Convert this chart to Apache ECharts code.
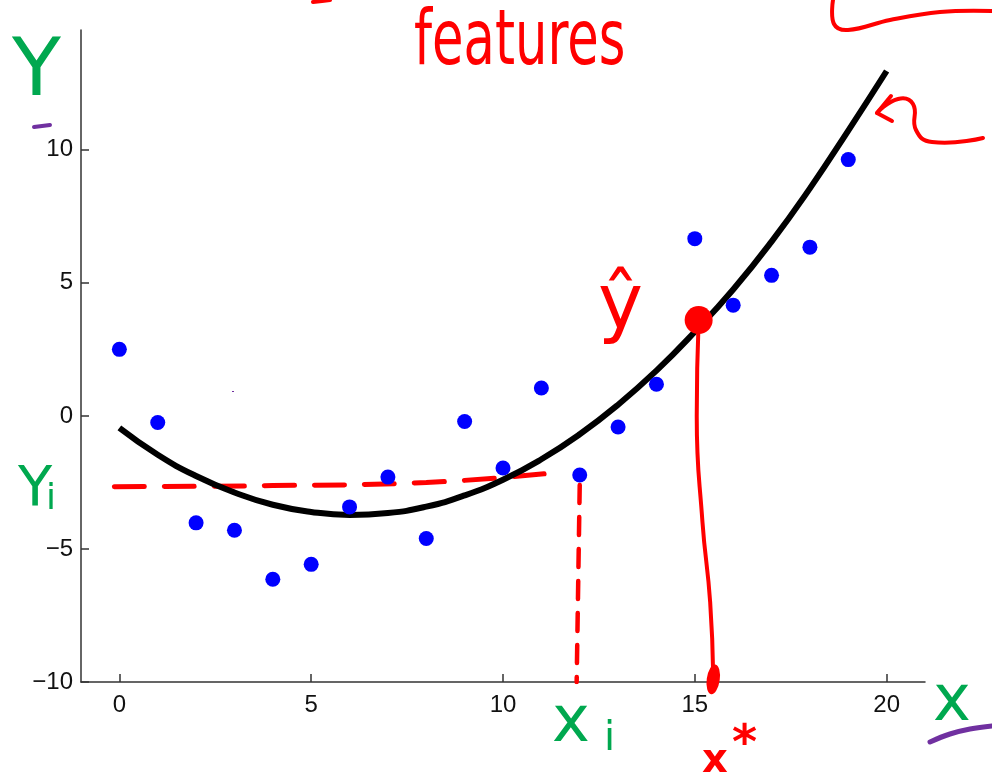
<!DOCTYPE html>
<html>
<head>
<meta charset="utf-8">
<style>
  html, body { margin: 0; padding: 0; background: #ffffff; }
  #chart { width: 992px; height: 773px; }
</style>
<script src="https://cdn.jsdelivr.net/npm/echarts@6/dist/echarts.min.js"></script>
</head>
<body>
<div id="chart"></div>
<script>
// Observed training points (x_i, y_i)
const xObs = [0, 1, 2, 3, 4, 5, 6, 7, 8, 9, 10, 11, 12, 13, 14, 15, 16, 17, 18, 19];
const yObs = [2.50, -0.25, -4.02, -4.30, -6.14, -5.58, -3.42, -2.30, -4.61, -0.21,
              -1.96, 1.05, -2.22, -0.42, 1.19, 6.66, 4.16, 5.28, 6.34, 9.63];

// Fitted quadratic regression curve, sampled at integer x
const xFit = [0, 1, 2, 3, 4, 5, 6, 7, 8, 9, 10, 11, 12, 13, 14, 15, 16, 17, 18, 19, 20];
const yFit = [-0.45, -1.46, -2.26, -2.88, -3.34, -3.61, -3.72, -3.65, -3.41, -2.99,
              -2.40, -1.63, -0.69, 0.42, 1.70, 3.16, 4.75, 6.55, 8.55, 10.72, 12.96];

// Axis tick values
const xTicks = [0, 5, 10, 15, 20];
const yTicks = [-10, -5, 0, 5, 10];

// Pen annotations tied to data space
const yiGuideX = [-0.13, 4, 8, 11.4];        // dashed level of y_i
const yiGuideY = [-2.66, -2.62, -2.50, -2.13];
const xiGuideX = [12.0, 11.92];              // dashed drop to x_i
const xiGuideY = [-2.6, -10];
const predX = [15.1, 15.05, 15.2, 15.4, 15.48];  // prediction pointer down to x*
const predY = [3.6, 0, -4, -7, -9.8];
const predPoint = [15.1, 3.6];
const xStarMark = [15.48, -9.9];

const RED = '#ff0000';
const GREEN = '#00a84f';
const PURPLE = '#7030a0';
const PEN = '"DejaVu Sans", "Liberation Sans", sans-serif';

const zip = (a, b) => a.map((v, i) => [v, b[i]]);
const minus = v => String(v).replace('-', '\u2212');

const chart = echarts.init(document.getElementById('chart'), null, { renderer: 'canvas' });

const lineCol = '#333333';
const labelStyle = {
  color: '#111111',
  fontSize: 24,
  fontFamily: '"Liberation Sans", Arial, sans-serif',
  formatter: minus
};

chart.setOption({
  animation: false,
  backgroundColor: '#ffffff',
  grid: { left: 81, right: 67, top: 30, bottom: 91, containLabel: false },
  xAxis: {
    type: 'value', min: -1, max: 21,
    axisLine: { show: true, onZero: false, lineStyle: { color: lineCol, width: 1.5 } },
    axisTick: { show: true, inside: true, length: 8, customValues: xTicks, lineStyle: { color: lineCol, width: 1.5 } },
    splitLine: { show: false },
    axisLabel: Object.assign({ customValues: xTicks, margin: 11 }, labelStyle)
  },
  yAxis: {
    type: 'value', min: -10, max: 14.5,
    axisLine: { show: true, onZero: false, lineStyle: { color: lineCol, width: 1.5 } },
    axisTick: { show: true, inside: true, length: 8, customValues: yTicks, lineStyle: { color: lineCol, width: 1.5 } },
    splitLine: { show: false },
    axisLabel: Object.assign({ customValues: yTicks, margin: 8 }, labelStyle)
  },
  series: [
    {
      name: 'y_i level',
      type: 'line',
      data: zip(yiGuideX, yiGuideY),
      smooth: true,
      symbol: 'none',
      lineStyle: { color: RED, width: 5, type: [30, 20], cap: 'round' },
      z: 1
    },
    {
      name: 'x_i drop',
      type: 'line',
      data: zip(xiGuideX, xiGuideY),
      symbol: 'none',
      lineStyle: { color: RED, width: 4.5, type: [18, 14], cap: 'round' },
      z: 1
    },
    {
      name: 'fit',
      type: 'line',
      data: zip(xFit, yFit),
      smooth: true,
      symbol: 'none',
      lineStyle: { color: '#000000', width: 6, cap: 'butt' },
      z: 2
    },
    {
      name: 'observations',
      type: 'scatter',
      data: zip(xObs, yObs),
      symbol: 'circle',
      symbolSize: 15,
      itemStyle: { color: '#0000ff', opacity: 1 },
      z: 3
    },
    {
      name: 'prediction pointer',
      type: 'line',
      data: zip(predX, predY),
      smooth: true,
      symbol: 'none',
      clip: false,
      lineStyle: { color: RED, width: 4, cap: 'round' },
      z: 4
    },
    {
      name: 'prediction',
      type: 'scatter',
      data: [predPoint],
      symbol: 'circle',
      symbolSize: 28,
      itemStyle: { color: RED, opacity: 1 },
      z: 5
    },
    {
      name: 'x star',
      type: 'scatter',
      data: [xStarMark],
      symbol: 'circle',
      symbolSize: [13, 30],
      symbolRotate: -8,
      clip: false,
      itemStyle: { color: RED, opacity: 1 },
      z: 5
    }
  ],
  graphic: [
    // handwritten labels
    { type: 'text', x: 414, y: 6, scaleX: 0.8, scaleY: 1.2, z: 10,
      style: { text: 'features', fill: RED, font: '64px ' + PEN } },
    { type: 'text', x: 598, y: 270, z: 10,
      style: { text: '\u0177', fill: RED, font: '76px ' + PEN } },
    { type: 'text', x: 702, y: 742, z: 10,
      style: { text: 'x', fill: RED, font: 'bold 40px ' + PEN } },
    { type: 'text', x: 732, y: 722, z: 10,
      style: { text: '*', fill: RED, font: 'bold 48px ' + PEN } },
    { type: 'text', x: 12, y: 34, z: 10,
      style: { text: 'Y', fill: GREEN, font: '80px ' + PEN } },
    { type: 'text', x: 18, y: 462, z: 10,
      style: { text: 'Y', fill: GREEN, font: '56px ' + PEN } },
    { type: 'text', x: 46, y: 482, z: 10,
      style: { text: 'i', fill: GREEN, font: '36px ' + PEN } },
    { type: 'text', x: 552, y: 692, z: 10,
      style: { text: 'x', fill: GREEN, font: '64px ' + PEN } },
    { type: 'text', x: 604, y: 720, z: 10,
      style: { text: 'i', fill: GREEN, font: '40px ' + PEN } },
    { type: 'text', x: 933, y: 671, z: 10,
      style: { text: 'x', fill: GREEN, font: '64px ' + PEN } },

    // pen strokes
    { type: 'polyline', z: 10,
      shape: { points: [[833, 0], [834, 24], [848, 30], [890, 20], [940, 12], [992, 11]], smooth: 0.4 },
      style: { stroke: RED, lineWidth: 4, fill: null, lineCap: 'round' } },
    { type: 'polyline', z: 10,
      shape: { points: [[891, 96], [877, 113], [892, 121]] },
      style: { stroke: RED, lineWidth: 4, fill: null, lineCap: 'round', lineJoin: 'round' } },
    { type: 'polyline', z: 10,
      shape: { points: [[877, 113], [898, 99], [913, 104], [916, 130], [932, 142], [983, 138]], smooth: 0.5 },
      style: { stroke: RED, lineWidth: 4, fill: null, lineCap: 'round' } },
    { type: 'polyline', z: 10,
      shape: { points: [[313, 2], [322, 1], [330, 0]] },
      style: { stroke: RED, lineWidth: 4, fill: null, lineCap: 'round' } },
    { type: 'polyline', z: 10,
      shape: { points: [[34, 127], [50, 125]] },
      style: { stroke: PURPLE, lineWidth: 4, fill: null, lineCap: 'round' } },
    { type: 'polyline', z: 10,
      shape: { points: [[930, 742], [950, 734], [970, 729], [992, 726]], smooth: 0.4 },
      style: { stroke: PURPLE, lineWidth: 5, fill: null, lineCap: 'round' } },
    { type: 'rect', z: 10,
      shape: { x: 232, y: 391, width: 2, height: 1 },
      style: { fill: PURPLE } }
  ]
});
</script>
</body>
</html>
